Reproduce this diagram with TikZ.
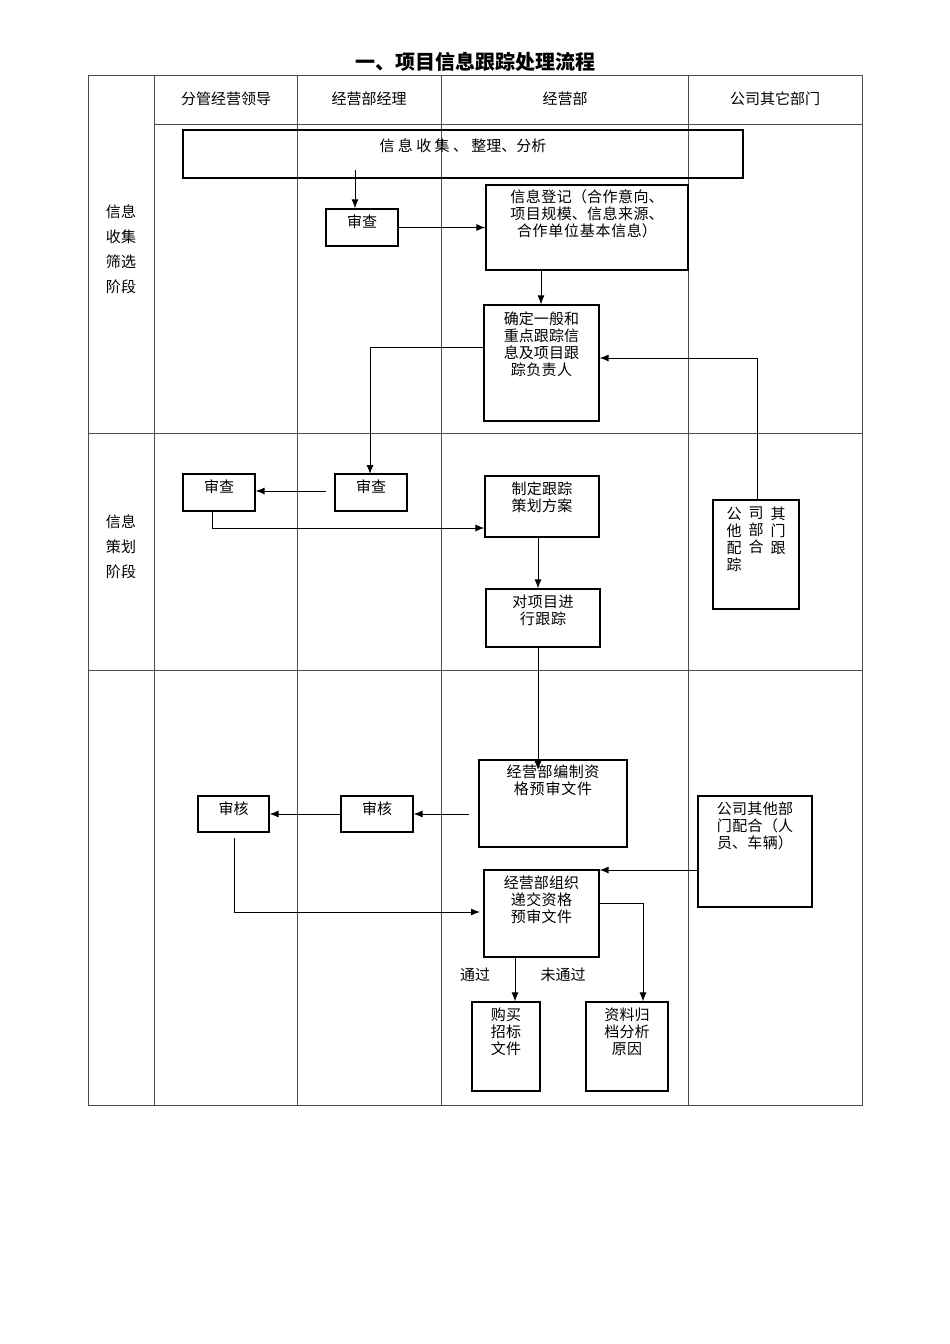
\documentclass[tikz,border=0pt]{standalone}
\usepackage{fontspec}
\setmainfont{Noto Sans CJK SC}
\XeTeXlinebreaklocale "zh"
\XeTeXlinebreakskip=0pt plus 1pt
\usetikzlibrary{arrows.meta}
\begin{document}
\begin{tikzpicture}[x=1pt,y=-1pt,
  box/.style={draw,line width=1.2pt,inner sep=0pt},
  txt/.style={font=\fontsize{15}{17}\selectfont,align=center,inner sep=0pt,anchor=north},
  arr/.style={-{Latex[length=9pt,width=7pt]},line width=1pt},
  ln/.style={line width=0.8pt}]
\useasboundingbox (0,0) rectangle (950,1344);
\newcommand\bx[5]{\node[box,minimum width={(#4-#2)*1pt},minimum height={(#5-#3)*1pt}] (#1) at ({(#2+#4)/2},{(#3+#5)/2}) {};}
% table
\draw[line width=0.6pt,gray!60!black] (88,75) rectangle (862,1105);
\foreach \x in {154,297,441,688} \draw[line width=0.6pt,gray!60!black] (\x,75) -- (\x,1105);
\draw[line width=0.6pt,gray!60!black] (154,124) -- (862,124) (88,433) -- (862,433) (88,670) -- (862,670);
\node[font=\bfseries\fontsize{20}{22}\selectfont] (title) at (475,62) {一、项目信息跟踪处理流程};
\node[txt,anchor=center] (h1) at (226,99) {分管经营领导};
\node[txt,anchor=center] (h2) at (369,99) {经营部经理};
\node[txt,anchor=center] (h3) at (565,99) {经营部};
\node[txt,anchor=center] (h4) at (775,99) {公司其它部门};
\node[txt,text width=32pt,font=\fontsize{15}{25}\selectfont] (r1) at (121,205) {信息收集筛选阶段};
\node[txt,text width=32pt,font=\fontsize{15}{25}\selectfont] (r2) at (121,515) {信息策划阶段};
% boxes
\bx{top}{183}{130}{743}{178}
\node[txt] at (top.north) [yshift=-9pt] {信 息 收 集 、 整理、分析};
\bx{sc1}{326}{209}{398}{246}
\node[txt] at (sc1.north) [yshift=-6pt] {审查};
\bx{dj}{486}{185}{688}{270}
\node[txt,text width=182pt] at (dj.north) [yshift=-5pt] {信息登记（合作意向、项目规模、信息来源、合作单位基本信息）};
\bx{qd}{484}{305}{599}{421}
\node[txt,text width=82pt] at (qd.north) [yshift=-7pt] {确定一般和重点跟踪信息及项目跟踪负责人};
\bx{sc2}{335}{474}{407}{511}
\node[txt] at (sc2.north) [yshift=-6pt] {审查};
\bx{sc3}{183}{474}{255}{511}
\node[txt] at (sc3.north) [yshift=-6pt] {审查};
\bx{zd}{485}{476}{599}{537}
\node[txt,text width=78pt] at (zd.north) [yshift=-6pt] {制定跟踪策划方案};
\bx{dx}{486}{589}{600}{647}
\node[txt,text width=82pt] at (dx.north) [yshift=-6pt] {对项目进行跟踪};
\bx{qt}{713}{500}{799}{609}
\node[txt,text width=16pt] at (734,507) {公\\他\\配\\踪};
\node[txt,text width=16pt] at (756,507) {司\\部\\合};
\node[txt,text width=16pt] at (778,507) {其\\门\\跟};
\bx{bz}{479}{760}{627}{847}
\node[txt,text width=124pt] at (bz.north) [yshift=-5pt] {经营部编制资格预审文件};
\bx{sh2}{341}{796}{413}{832}
\node[txt] at (sh2.north) [yshift=-6pt] {审核};
\bx{sh1}{198}{796}{269}{832}
\node[txt] at (sh1.north) [yshift=-6pt] {审核};
\bx{ph}{698}{796}{812}{907}
\node[txt,text width=98pt] at (ph.north) [yshift=-6pt] {公司其他部门配合（人员、车辆）};
\bx{zz}{484}{870}{599}{957}
\node[txt,text width=82pt] at (zz.north) [yshift=-6pt] {经营部组织递交资格预审文件};
\bx{gm}{472}{1002}{540}{1091}
\node[txt,text width=34pt] at (gm.north) [yshift=-6pt] {购买招标文件};
\bx{zl}{586}{1002}{668}{1091}
\node[txt,text width=50pt] at (zl.north) [yshift=-6pt] {资料归档分析原因};
\node[txt,anchor=center] (tg) at (475,975) {通过};
\node[txt,anchor=center] (wtg) at (563,975) {未通过};
% connectors
\draw[arr] (355,170) -- (sc1.north -| 355,0);
\draw[arr] (sc1.east) -- (sc1.east -| dj.west);
\draw[arr] (dj.south -| 541,0) -- (qd.north -| 541,0);
\draw[arr] (qd.west |- 0,347) -- (370,347) -- (370,474);
\draw[arr] (qt.north -| 757,0) -- (757,358) -- (qd.east |- 0,358);
\draw[arr] (326,491) -- (sc3.east |- 0,491);
\draw[arr] (212,511) -- (212,528) -- (zd.west |- 0,528);
\draw[arr] (zd.south -| 538,0) -- (dx.north -| 538,0);
\draw[arr] (dx.south -| 538,0) -- (538,770);
\draw[arr] (469,814) -- (sh2.east |- 0,814);
\draw[arr] (sh2.west |- 0,814) -- (sh1.east |- 0,814);
\draw[arr] (234,838) -- (234,912) -- (480,912);
\draw[arr] (ph.west |- 0,870) -- (zz.east |- 0,870);
\draw[arr] (zz.east |- 0,903) -- (643,903) -- (zl.north -| 643,0);
\draw[arr] (zz.south -| 515,0) -- (gm.north -| 515,0);
\end{tikzpicture}
\end{document}
